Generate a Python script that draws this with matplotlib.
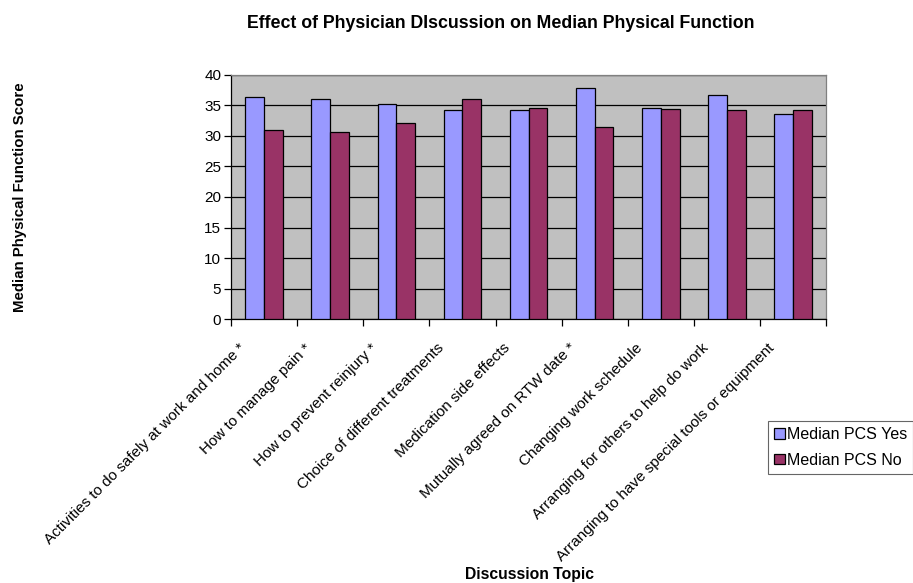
import numpy as np
import matplotlib
matplotlib.use("Agg")
import matplotlib.pyplot as plt
from matplotlib.transforms import ScaledTranslation

plt.rcParams['font.family'] = ['Liberation Sans', 'DejaVu Sans']

topics = [
    "Activities to do safely at work and home *",
    "How to manage pain *",
    "How to prevent reinjury *",
    "Choice of different treatments",
    "Medication side effects",
    "Mutually agreed on RTW date *",
    "Changing work schedule",
    "Arranging for others to help do work",
    "Arranging to have special tools or equipment",
]
pcs_yes = [36.3, 36.1, 35.2, 34.2, 34.2, 37.8, 34.6, 36.6, 33.5]
pcs_no = [30.9, 30.6, 32.1, 36.1, 34.6, 31.5, 34.4, 34.2, 34.2]
yticks = [0, 5, 10, 15, 20, 25, 30, 35, 40]

fig = plt.figure(figsize=(9.13, 5.83), dpi=100)
ax = fig.add_axes([0.253, 0.4523, 0.652, 0.4196])
ax.set_facecolor('#C0C0C0')

x = np.arange(len(topics))
w = 0.283
ax.bar(x - w / 2, pcs_yes, w, color='#9999FF', edgecolor='black', linewidth=0.9,
       label='Median PCS Yes', zorder=3)
ax.bar(x + w / 2, pcs_no, w, color='#993366', edgecolor='black', linewidth=0.9,
       label='Median PCS No', zorder=3)

ax.set_xlim(-0.5, len(topics) - 0.5)
ax.set_ylim(0, 40)
ax.set_yticks(yticks)
ax.yaxis.grid(True, color='black', linewidth=0.9, zorder=1)
ax.set_axisbelow(True)

# category labels at centres, tick marks at the boundaries
ax.set_xticks(x)
ax.set_xticks(np.arange(len(topics) + 1) - 0.5, minor=True)
ax.tick_params(axis='x', which='major', length=0, pad=19)
ax.tick_params(axis='x', which='minor', length=5, width=0.9, direction='out')
ax.tick_params(axis='y', length=5, width=0.9, direction='out', labelsize=11, pad=2)
ax.set_xticklabels(topics, rotation=45, ha='right', va='center',
                   rotation_mode='anchor', fontsize=11)
shift = ScaledTranslation(-0.21, 0, fig.dpi_scale_trans)
for lbl in ax.get_xticklabels():
    lbl.set_transform(lbl.get_transform() + shift)

for side in ['top', 'right']:
    ax.spines[side].set_color('#808080')
    ax.spines[side].set_linewidth(0.9)
for side in ['left', 'bottom']:
    ax.spines[side].set_color('black')
    ax.spines[side].set_linewidth(0.9)

fig.text(501 / 913, 1 - 23 / 583, "Effect of Physician DIscussion on Median Physical Function",
         ha='center', va='center', fontsize=12.8, fontweight='bold')
fig.text(529 / 913, 1 - 575 / 583, "Discussion Topic", ha='center', va='center',
         fontsize=11.3, fontweight='bold')
fig.text(20 / 913, 1 - 197 / 583, "Median Physical Function Score", ha='center',
         va='center', rotation=90, fontsize=10.8, fontweight='bold')

leg = fig.legend(loc='upper left', bbox_to_anchor=(768 / 913, 1 - 421 / 583),
                 fontsize=11.5, frameon=True, fancybox=False, shadow=False,
                 handlelength=0.65, handleheight=0.65, handletextpad=0.12,
                 labelspacing=0.65, borderpad=0.4, borderaxespad=0)
leg.get_frame().set_edgecolor('#404040')
leg.get_frame().set_linewidth(0.8)

fig.savefig('out.png', dpi=100)
